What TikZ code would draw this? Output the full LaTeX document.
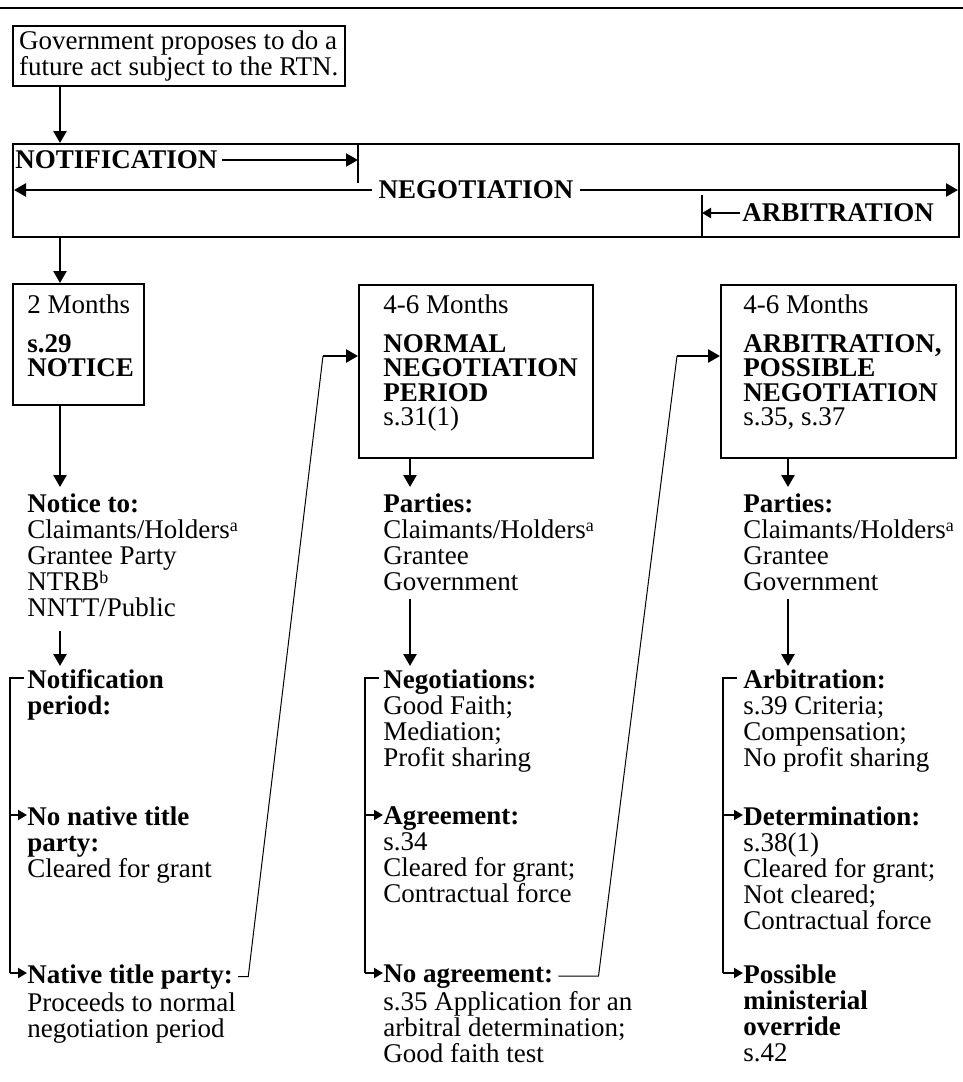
\documentclass[tikz,border=0pt]{standalone}
\usepackage{fontspec}
\setmainfont{Liberation Serif}
\usetikzlibrary{arrows.meta,positioning}
\newcommand{\diafont}{\fontsize{13.5}{13}\selectfont\setlength{\lineskiplimit}{-20pt}}
\newcommand{\boxfont}{\fontsize{13.5}{12.25}\selectfont\setlength{\lineskiplimit}{-20pt}}
\newcommand{\fnmark}[1]{\raisebox{0.55ex}{\fontsize{9}{9}\selectfont #1}}

\begin{document}
\begin{tikzpicture}[x=0.5pt, y=-0.5pt, font=\diafont,
    txt/.style={inner sep=0pt, align=left, anchor=north west},
    box/.style={draw, line width=1pt, inner sep=0pt, anchor=north west},
    arr/.style={-{Triangle[length=6pt, width=6.5pt]}, line width=1.3pt},
    sarr/.style={-{Triangle[length=4.5pt, width=5pt]}, line width=1pt},
    thin line/.style={line width=0.5pt}]
    \useasboundingbox (0,0) rectangle (963,1082);
    \draw[line width=1pt] (0,8) -- (963,8);

    \node[box, line width=0.8pt, minimum width=166pt, minimum height=30pt, align=left] (gov) at (12,25) {Government proposes to do a\\future act subject to the RTN.};

    \node[box, minimum width=473pt, minimum height=46.5pt] (stg) at (12,143) {};
    \node[txt, anchor=west] (hn) at (15,160) {\textbf{NOTIFICATION}};
    \node[txt, anchor=center] (hg) at (476,190) {\textbf{NEGOTIATION}};
    \node[txt, anchor=west] (ha) at (742,213) {\textbf{ARBITRATION}};
    \coordinate (t1) at (358,143);
    \coordinate (t2) at (702,236);
    \draw[line width=1pt] (t1) -- ++(0,40);
    \draw[line width=1pt] (t2) -- ++(0,-41);
    \draw[arr, line width=1pt] ([xshift=2pt]hn.east) -- (hn.east -| t1);
    \draw[arr, shorten >=1pt] ([xshift=-3pt]hg.west) -- (hg.west -| stg.west);
    \draw[arr, shorten >=1pt] ([xshift=3pt]hg.east) -- (hg.east -| stg.east);
    \draw[sarr] ([xshift=-1pt]ha.west) -- (ha.west -| t2);

    \node[box, minimum width=65.5pt, minimum height=60.5pt] (bn) at (12,283) {};
    \node[box, minimum width=117pt, minimum height=86.5pt] (bp) at (358,284) {};
    \node[box, minimum width=117.5pt, minimum height=86.5pt] (ba) at (720,284) {};
    \node[txt, font=\boxfont] (tn) at (27,294) {2 Months\\[7.25pt]\textbf{s.29}\\\textbf{NOTICE}};
    \node[txt, font=\boxfont] (tp) at (383,294) {4-6 Months\\[7.25pt]\textbf{NORMAL}\\\textbf{NEGOTIATION}\\\textbf{PERIOD}\\s.31(1)};
    \node[txt, font=\boxfont] (ta) at (743,294) {4-6 Months\\[7.25pt]\textbf{ARBITRATION,}\\\textbf{POSSIBLE}\\\textbf{NEGOTIATION}\\s.35, s.37};

    \node[txt] (nto) at (27,493) {\textbf{Notice to:}\\Claimants/Holders\fnmark{a}\\Grantee Party\\NTRB\fnmark{b}\\NNTT/Public};
    \node[txt] (pp) at (383,493) {\textbf{Parties:}\\Claimants/Holders\fnmark{a}\\Grantee\\Government};
    \node[txt] (pa) at (743,493) {\textbf{Parties:}\\Claimants/Holders\fnmark{a}\\Grantee\\Government};

    \node[txt] (np) at (27,669) {\textbf{Notification}\\\textbf{period:}};
    \node[txt] (nn) at (27,806) {\textbf{No native title}\\\textbf{party:}\\Cleared for grant};
    \node[txt] (nh) at (27,964) {\textbf{Native title party:}};
    \node[txt, below=1.5pt of nh.south west, anchor=north west] (nhb) {Proceeds to normal\\negotiation period};

    \node[txt] (ng) at (383,669) {\textbf{Negotiations:}\\Good Faith;\\Mediation;\\Profit sharing};
    \node[txt] (ag) at (383,806) {\textbf{Agreement:}\\s.34\\Cleared for grant;\\Contractual force};
    \node[txt] (na) at (383,964) {\textbf{No agreement:}};
    \node[txt, below=1.5pt of na.south west, anchor=north west] (nab) {s.35 Application for an\\arbitral determination;\\Good faith test};

    \node[txt] (ar) at (743,669) {\textbf{Arbitration:}\\s.39 Criteria;\\Compensation;\\No profit sharing};
    \node[txt] (de) at (743,806) {\textbf{Determination:}\\s.38(1)\\Cleared for grant;\\Not cleared;\\Contractual force};
    \node[txt] (po) at (743,964) {\textbf{Possible}\\\textbf{ministerial}\\\textbf{override}\\s.42};

    \coordinate (s1) at (60,0);
    \coordinate (s2) at (410,0);
    \coordinate (s3) at (788,0);
    \draw[arr] (gov.south -| s1) -- (stg.north -| s1);
    \draw[arr] (stg.south -| s1) -- (bn.north -| s1);
    \draw[arr, shorten >=3pt] (bn.south -| s1) -- (nto.north -| s1);
    \draw[arr, shorten <=7pt, shorten >=1.5pt] (nto.south -| s1) -- (np.north -| s1);
    \draw[arr, shorten >=3pt] (bp.south -| s2) -- (pp.north -| s2);
    \draw[arr, shorten <=4pt, shorten >=1.5pt] (pp.south -| s2) -- (ng.north -| s2);
    \draw[arr, shorten >=3pt] (ba.south -| s3) -- (pa.north -| s3);
    \draw[arr, shorten <=4pt, shorten >=1.5pt] (pa.south -| s3) -- (ar.north -| s3);

    \coordinate (l1) at (10,678);
    \coordinate (l2) at (10,815);
    \coordinate (l3) at (10,973);
    \draw[line width=1pt] ([xshift=7pt]l1) -- (l1) -- (l3);
    \draw[sarr] (l2) -- (l2 -| nn.west);
    \draw[sarr] (l3) -- (l3 -| nh.west);

    \coordinate (m1) at (365,678);
    \coordinate (m2) at (365,815);
    \coordinate (m3) at (365,973);
    \draw[line width=1pt] ([xshift=7pt]m1) -- (m1) -- (m3);
    \draw[sarr] (m2) -- (m2 -| ag.west);
    \draw[sarr] (m3) -- (m3 -| na.west);

    \coordinate (r1) at (723,678);
    \coordinate (r2) at (723,815);
    \coordinate (r3) at (723,973);
    \draw[line width=1pt] ([xshift=7pt]r1) -- (r1) -- (r3);
    \draw[sarr] (r2) -- (r2 -| de.west);
    \draw[sarr] (r3) -- (r3 -| po.west);

    \coordinate (c1) at (323,356);
    \coordinate (c2) at (677,356);
    \draw[thin line] ([xshift=2.5pt]nh.east) -- ++(5pt,0) -- (c1);
    \draw[arr] (c1) -- (c1 -| bp.west);
    \draw[thin line] ([xshift=2.5pt]na.east) -- ++(20pt,0) -- (c2);
    \draw[arr] (c2) -- (c2 -| ba.west);
\end{tikzpicture}
\end{document}
